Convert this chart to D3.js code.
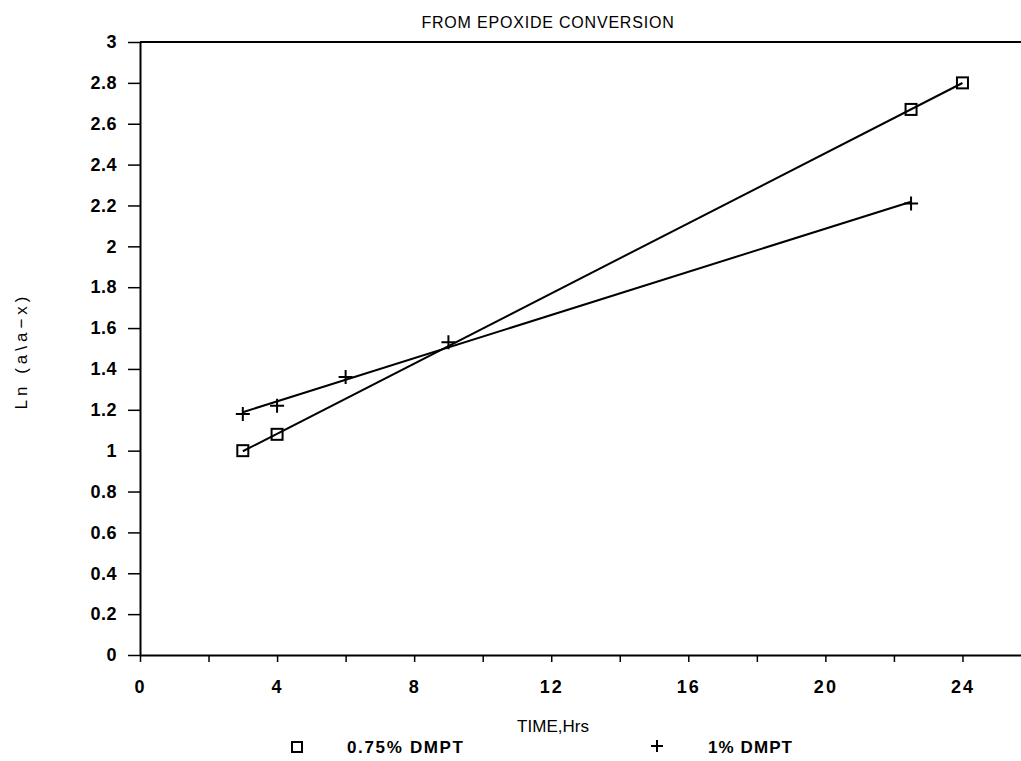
<!DOCTYPE html>
<html>
<head>
<meta charset="utf-8">
<script src="https://cdn.jsdelivr.net/npm/d3@7"></script>
<style>
  html, body { margin: 0; padding: 0; background: #fff; }
  svg { display: block; }
  text { font-family: "Liberation Sans", Arial, sans-serif; fill: #000; }
</style>
</head>
<body>
<svg id="chart" width="1021" height="761"></svg>
<script>
// ---- data ----
const title = "FROM EPOXIDE CONVERSION";
const xLabel = "TIME,Hrs";
const yLabel = "Ln (a\\a\u2212x)";
const seriesNames = ["0.75% DMPT", "1% DMPT"];
const timeSquare = [3, 4, 22.5, 24];
const lnSquare   = [1.00, 1.08, 2.67, 2.80];
const timePlus   = [3, 4, 6, 9, 22.5];
const lnPlus     = [1.18, 1.22, 1.36, 1.53, 2.21];
const xTickValues = [0, 2, 4, 6, 8, 10, 12, 14, 16, 18, 20, 22, 24];
const xTickLabels = ["0", "", "4", "", "8", "", "12", "", "16", "", "20", "", "24"];
const yTickValues = [0, 0.2, 0.4, 0.6, 0.8, 1, 1.2, 1.4, 1.6, 1.8, 2, 2.2, 2.4, 2.6, 2.8, 3];

// ---- layout ----
const svg = d3.select("#chart");
const x = d3.scaleLinear().domain([0, 26]).range([140, 1031]);
const y = d3.scaleLinear().domain([0, 3]).range([655, 42]);

// linear least squares fit
function fit(xs, ys) {
  const mx = d3.mean(xs), my = d3.mean(ys);
  let sxy = 0, sxx = 0;
  xs.forEach((v, i) => { sxy += (v - mx) * (ys[i] - my); sxx += (v - mx) ** 2; });
  const b = sxy / sxx, a = my - b * mx;
  const x0 = d3.min(xs), x1 = d3.max(xs);
  return [[x0, a + b * x0], [x1, a + b * x1]];
}

// title
svg.append("text").attr("x", 548).attr("y", 28).attr("text-anchor", "middle")
  .style("font-size", "16px").style("letter-spacing", "0.8px").text(title);

// top border
svg.append("line").attr("x1", x(0)).attr("x2", x(26)).attr("y1", y(3)).attr("y2", y(3))
  .attr("stroke", "#000").attr("stroke-width", 2);

// x axis
const xAxis = d3.axisBottom(x).tickValues(xTickValues)
  .tickFormat((d, i) => xTickLabels[i]).tickSize(7).tickPadding(18).tickSizeOuter(0);
const gx = svg.append("g").attr("transform", `translate(0,${y(0)})`).call(xAxis);
gx.select(".domain").attr("stroke-width", 2);
gx.selectAll(".tick line").attr("stroke-width", 1.5);
gx.selectAll(".tick text").style("font-size", "18px").style("font-weight", "bold")
  .style("letter-spacing", "2px").attr("font-family", null);

// y axis
const yAxis = d3.axisLeft(y).tickValues(yTickValues)
  .tickFormat(d => d3.format("~g")(d)).tickSize(12).tickPadding(11).tickSizeOuter(0);
const gy = svg.append("g").attr("transform", `translate(${x(0)},0)`).call(yAxis);
gy.select(".domain").attr("stroke-width", 2);
gy.selectAll(".tick line").attr("stroke-width", 1.5);
gy.selectAll(".tick text").style("font-size", "18px").style("font-weight", "bold")
  .style("letter-spacing", "0.5px").attr("font-family", null);

// axis labels
svg.append("text").attr("x", 553).attr("y", 732).attr("text-anchor", "middle")
  .style("font-size", "17px").text(xLabel);
svg.append("text").attr("transform", "translate(27,351) rotate(-90)")
  .attr("text-anchor", "middle").style("font-size", "17px").style("letter-spacing", "4px")
  .text(yLabel);

// fitted lines
const line = d3.line().x(d => x(d[0])).y(d => y(d[1]));
svg.append("path").datum(fit(timeSquare, lnSquare)).attr("d", line)
  .attr("fill", "none").attr("stroke", "#000").attr("stroke-width", 2);
svg.append("path").datum(fit(timePlus, lnPlus)).attr("d", line)
  .attr("fill", "none").attr("stroke", "#000").attr("stroke-width", 2);

// markers
const sq = 11;
svg.append("g").selectAll("rect").data(timeSquare.map((t, i) => [t, lnSquare[i]])).join("rect")
  .attr("x", d => x(d[0]) - sq / 2).attr("y", d => y(d[1]) - sq / 2)
  .attr("width", sq).attr("height", sq)
  .attr("fill", "none").attr("stroke", "#000").attr("stroke-width", 2);
const pl = 7;
const plusPath = (cx, cy, r) => `M${cx - r},${cy}H${cx + r}M${cx},${cy - r}V${cy + r}`;
svg.append("g").selectAll("path").data(timePlus.map((t, i) => [t, lnPlus[i]])).join("path")
  .attr("d", d => plusPath(x(d[0]), y(d[1]), pl))
  .attr("stroke", "#000").attr("stroke-width", 2).attr("fill", "none");

// legend
svg.append("rect").attr("x", 292).attr("y", 742).attr("width", 10).attr("height", 10)
  .attr("fill", "none").attr("stroke", "#000").attr("stroke-width", 2);
svg.append("text").attr("x", 347).attr("y", 753).style("font-size", "17px")
  .style("font-weight", "bold").attr("textLength", 116).attr("lengthAdjust", "spacing")
  .text(seriesNames[0]);
svg.append("path").attr("d", plusPath(657, 746, 6))
  .attr("stroke", "#000").attr("stroke-width", 2);
svg.append("text").attr("x", 708).attr("y", 753).style("font-size", "17px")
  .style("font-weight", "bold").attr("textLength", 84).attr("lengthAdjust", "spacing")
  .text(seriesNames[1]);
</script>
</body>
</html>
